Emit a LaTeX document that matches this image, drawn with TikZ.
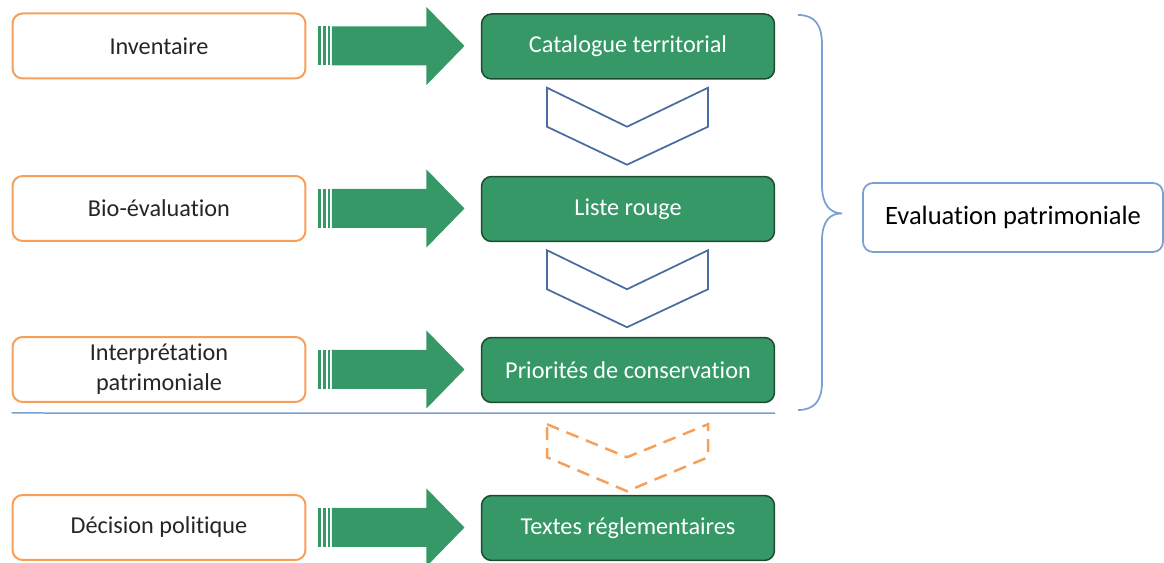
\documentclass[tikz,border=0pt]{standalone}
\usepackage{fontspec}
\setmainfont{Carlito}[Ligatures=NoCommon]
\usetikzlibrary{calc}
\definecolor{boxgreen}{RGB}{53,152,102}
\definecolor{boxgreendark}{RGB}{28,76,46}
\definecolor{boxorange}{RGB}{246,160,90}
\definecolor{chevblue}{RGB}{74,108,160}
\definecolor{lineblue}{RGB}{122,160,210}
\definecolor{textgray}{RGB}{38,38,38}
\begin{document}
\begin{tikzpicture}[
				x=0.02cm, y=-0.02cm,
				step box/.style={rounded corners=0.2cm, minimum width=5.86cm, minimum height=1.3cm, align=center, font=\fontsize{13.8}{17}\selectfont},
				source/.style={step box, draw=boxorange, line width=0.04cm, fill=white, text=textgray},
				result/.style={step box, draw=boxgreendark, line width=0.03cm, fill=boxgreen, text=white},
				chevron/.style={draw=chevblue, line width=0.035cm, line join=miter},
				block arrow/.style={fill=boxgreen, draw=none}
				]
			\useasboundingbox (0,0) rectangle (1164,563);
			% left column
			\node [source] (inv) at (159,46) {Inventaire};
			\node [source] (bio) at (159,208.5) {Bio-évaluation};
			\node [source] (int) at (159,369.5) {Interprétation\\patrimoniale};
			\node [source] (dec) at (159,527.5) {Décision politique};
			% right column
			\node [result] (cat) at (628,46.5) {Catalogue territorial};
			\node [result] (lst) at (628,209) {Liste rouge};
			\node [result] (pri) at (628,370) {Priorités de conservation};
			\node [result] (txt) at (628,528) {Textes réglementaires};
			% big arrows
			\foreach \a in {inv, bio, int, dec} {
				\fill [block arrow] ($(\a.east)+(12,-19.5)$) rectangle ($(\a.east)+(14.5,19.5)$);
				\fill [block arrow] ($(\a.east)+(17,-19.5)$) rectangle ($(\a.east)+(19.5,19.5)$);
				\fill [block arrow] ($(\a.east)+(21.5,-19.5)$) rectangle ($(\a.east)+(24,19.5)$);
				\fill [block arrow] ($(\a.east)+(25.5,-19.5)$) -- ($(\a.east)+(120,-19.5)$) -- ($(\a.east)+(120,-39)$)
					-- ($(\a.east)+(158,0)$) -- ($(\a.east)+(120,39)$) -- ($(\a.east)+(120,19.5)$) -- ($(\a.east)+(25.5,19.5)$) -- cycle;
			}
			% chevrons
			\foreach \u in {cat, lst} {
				\draw [chevron] ($(\u.south)+(-81,8)$) -- ($(\u.south)+(-1,47)$) -- ($(\u.south)+(80,8)$) -- ($(\u.south)+(80,47)$)
					-- ($(\u.south)+(-1,85)$) -- ($(\u.south)+(-81,47)$) -- cycle;
			}
			\draw [chevron, draw=boxorange, line width=0.05cm, dash pattern=on 0.26cm off 0.16cm] ($(pri.south)+(-81,21)$) -- ($(pri.south)+(-1,54)$) -- ($(pri.south)+(80,21)$)
				-- ($(pri.south)+(80,54)$) -- ($(pri.south)+(-1,88)$) -- ($(pri.south)+(-81,54)$) -- cycle;
			% separator
			\draw [lineblue, line width=0.03cm] ($(int.south west)+(0,10)$) -- ($(pri.south east)+(0,10)$);
			% brace
			\node [draw=lineblue, line width=0.035cm, rounded corners=0.2cm, minimum width=6cm, minimum height=1.38cm, font=\fontsize{15.1}{18}\selectfont] (eval) at (1013,217.5) {Evaluation patrimoniale};
			\coordinate (tip) at ($(eval.west)+(-20,-4)$);
			\draw [lineblue, line width=0.035cm] (798,15) .. controls (815,15) and (822,25) .. (822,45) -- (822,185)
				.. controls (822,205) and (830,213) .. (tip) .. controls (830,213) and (822,221) .. (822,241) -- (822,382)
				.. controls (822,400) and (815,410) .. (798,410);
		\end{tikzpicture}
\end{document}
